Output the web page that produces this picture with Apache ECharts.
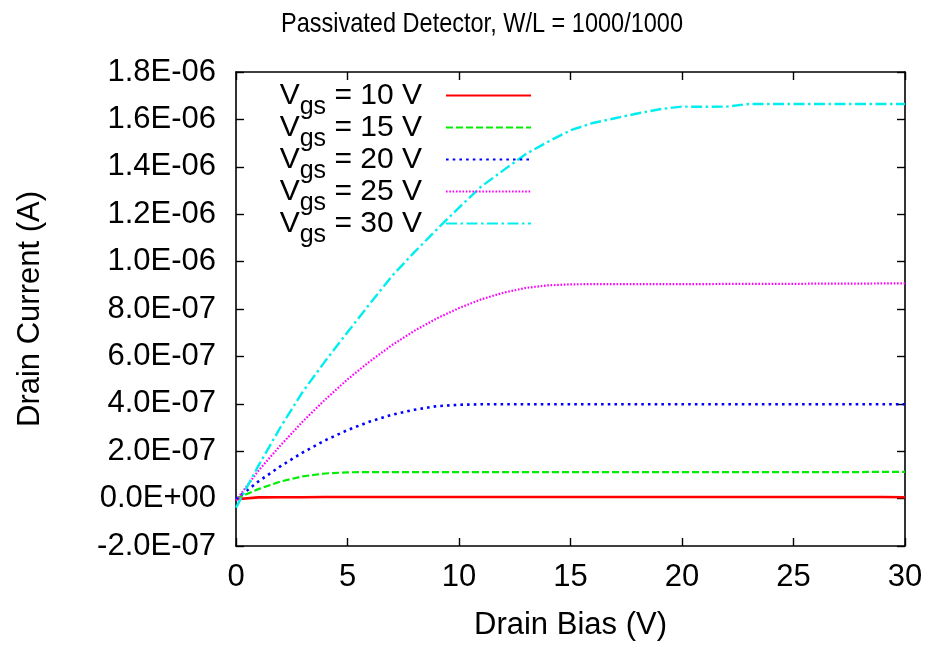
<!DOCTYPE html>
<html>
<head>
<meta charset="utf-8">
<script src="https://cdn.jsdelivr.net/npm/echarts@6/dist/echarts.min.js"></script>
<style>
  html, body { margin: 0; padding: 0; background: #ffffff; }
  #chart { width: 932px; height: 647px; }
</style>
</head>
<body>
<div id="chart"></div>
<script>
// Drain bias sweep (V)
const drainBias = [0, 1, 2, 3, 4, 5, 6, 7, 8, 9, 10, 11, 12, 13, 14, 15,
  16, 17, 18, 19, 20, 21, 22, 23, 24, 25, 26, 27, 28, 29, 30];

// Drain current for each gate bias, in units of 1E-07 A
const idVgs10 = [-0.03, 0.05, 0.06, 0.06, 0.07, 0.07, 0.07, 0.07, 0.07, 0.07, 0.07,
  0.07, 0.07, 0.07, 0.07, 0.07, 0.07, 0.07, 0.07, 0.07, 0.07, 0.07, 0.07, 0.07, 0.07,
  0.07, 0.07, 0.07, 0.07, 0.07, 0.06];
const idVgs15 = [0.00, 0.40, 0.72, 0.94, 1.06, 1.11, 1.12, 1.12, 1.12, 1.12, 1.12,
  1.12, 1.12, 1.12, 1.12, 1.12, 1.12, 1.12, 1.12, 1.12, 1.12, 1.12, 1.12, 1.12, 1.12,
  1.12, 1.12, 1.12, 1.12, 1.13, 1.13];
const idVgs20 = [-0.02, 0.72, 1.37, 1.95, 2.46, 2.89, 3.25, 3.54, 3.75, 3.90, 3.96,
  3.98, 3.98, 3.98, 3.98, 3.98, 3.98, 3.98, 3.98, 3.98, 3.98, 3.98, 3.98, 3.98, 3.98,
  3.98, 3.98, 3.98, 3.98, 3.98, 3.98];
const idVgs25 = [-0.08, 1.17, 2.25, 3.26, 4.18, 5.03, 5.79, 6.48, 7.08, 7.60, 8.04,
  8.41, 8.69, 8.89, 9.00, 9.04, 9.05, 9.05, 9.05, 9.05, 9.05, 9.05, 9.06, 9.06, 9.06,
  9.06, 9.07, 9.07, 9.07, 9.08, 9.08];
const idVgs30 = [-0.38, 1.38, 3.02, 4.52, 5.80, 7.02, 8.22, 9.40, 10.40, 11.35, 12.28,
  13.17, 13.86, 14.54, 15.06, 15.54, 15.85, 16.05, 16.25, 16.43, 16.54, 16.53, 16.54,
  16.65, 16.65, 16.65, 16.65, 16.65, 16.65, 16.65, 16.65];

const gateLabels = ['= 10 V', '= 15 V', '= 20 V', '= 25 V', '= 30 V'];
const currentUnit = 1e-7;

const chartTitle = 'Passivated Detector, W/L = 1000/1000';
const xTickLabels = ['0', '5', '10', '15', '20', '25', '30'];
const yTickLabels = ['-2.0E-07', '0.0E+00', '2.0E-07', '4.0E-07', '6.0E-07', '8.0E-07',
  '1.0E-06', '1.2E-06', '1.4E-06', '1.6E-06', '1.8E-06'];

const FONT = "'Liberation Sans', Arial, Helvetica, sans-serif";

const curveStyles = [
  { color: '#ff0000', width: 2.6, type: 'solid' },
  { color: '#00ee00', width: 2.2, type: [7, 3] },
  { color: '#0000ff', width: 2.6, type: [2.6, 4.1] },
  { color: '#ff00ff', width: 2.2, type: [1.6, 1.7] },
  { color: '#00eeee', width: 2.4, type: [11, 3.5, 2.5, 3.5] }
];
const curves = [idVgs10, idVgs15, idVgs20, idVgs25, idVgs30];

const series = curves.map((vals, i) => ({
  name: 'Vgs ' + gateLabels[i],
  type: 'line',
  symbol: 'none',
  smooth: false,
  animation: false,
  xAxisIndex: 0,
  yAxisIndex: 0,
  data: drainBias.map((v, k) => [v, vals[k] * currentUnit]),
  lineStyle: { color: curveStyles[i].color, width: curveStyles[i].width, type: curveStyles[i].type },
  itemStyle: { color: curveStyles[i].color }
}));

const axisLineStyle = { onZero: false, lineStyle: { color: '#000', width: 1.6 } };
const tickStyle = { show: true, inside: true, length: 8, lineStyle: { color: '#000', width: 1.4 } };

const chart = echarts.init(document.getElementById('chart'), null, { renderer: 'canvas' });
chart.setOption({
  backgroundColor: '#ffffff',
  animation: false,
  // condensed title text, horizontally compressed like a narrow sans face
  graphic: [{
    type: 'text',
    x: 482,
    y: 24,
    scaleX: 0.84,
    style: {
      text: chartTitle,
      font: "28px 'Liberation Sans', Arial, sans-serif",
      fill: '#000',
      align: 'center',
      verticalAlign: 'middle'
    }
  }],
  legend: {
    orient: 'vertical',
    right: 400,
    top: 71,
    padding: 0,
    align: 'right',
    itemWidth: 85,
    itemHeight: 14,
    itemGap: -17,
    selectedMode: false,
    itemStyle: { opacity: 0 },
    data: series.map(s => s.name),
    formatter: name => '{v|V}{s|gs}{v| ' + name.slice(4) + '}',
    textStyle: {
      padding: [0, 19, 0, 0],
      rich: {
        v: { fontFamily: FONT, fontSize: 30, lineHeight: 32, color: '#000' },
        s: { fontFamily: FONT, fontSize: 25, lineHeight: 10, padding: [24, 0, 0, 0], color: '#000' }
      }
    }
  },
  grid: {
    left: 236, right: 27, top: 72, bottom: 101,
    containLabel: false,
    outerBoundsMode: 'none'
  },
  xAxis: [
    {
      type: 'value', min: 0, max: 30, interval: 5, position: 'bottom',
      axisLine: axisLineStyle, axisTick: tickStyle, splitLine: { show: false },
      axisLabel: {
        margin: 16, fontFamily: FONT, fontSize: 31, color: '#000',
        formatter: (v, idx) => xTickLabels[idx]
      },
      name: 'Drain Bias (V)', nameLocation: 'middle', nameGap: 64,
      nameTextStyle: { fontFamily: FONT, fontSize: 31, color: '#000' }
    },
    {
      type: 'value', min: 0, max: 30, interval: 5, position: 'top',
      axisLine: axisLineStyle, axisTick: tickStyle, splitLine: { show: false },
      axisLabel: { show: false }
    }
  ],
  yAxis: [
    {
      type: 'value', min: -2e-7, max: 1.8e-6, interval: 2e-7, position: 'left',
      axisLine: axisLineStyle, axisTick: tickStyle, splitLine: { show: false },
      axisLabel: {
        margin: 20, fontFamily: FONT, fontSize: 31, color: '#000',
        formatter: (v, idx) => yTickLabels[idx]
      },
      name: 'Drain Current (A)', nameLocation: 'middle', nameGap: 190, nameRotate: 90,
      nameTextStyle: { fontFamily: FONT, fontSize: 31, color: '#000' }
    },
    {
      type: 'value', min: -2e-7, max: 1.8e-6, interval: 2e-7, position: 'right',
      axisLine: axisLineStyle, axisTick: tickStyle, splitLine: { show: false },
      axisLabel: { show: false }
    }
  ],
  series: series
});
</script>
</body>
</html>
